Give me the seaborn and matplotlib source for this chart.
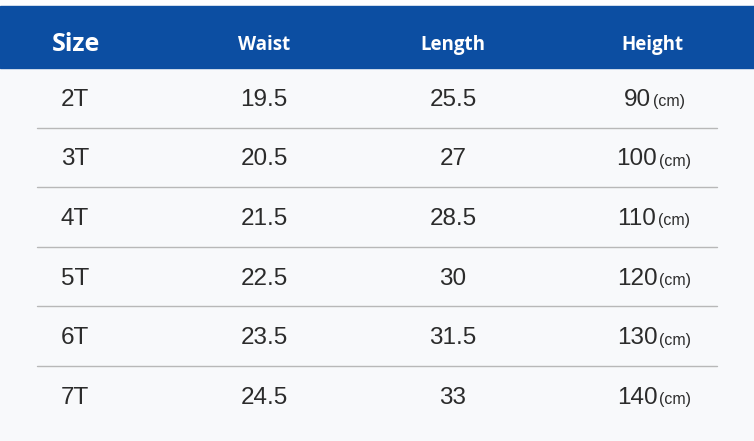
import matplotlib.pyplot as plt
import seaborn as sns
from matplotlib.patches import Rectangle

# Données du tableau des tailles
headers = ["Size", "Waist", "Length", "Height"]
sizes = ["2T", "3T", "4T", "5T", "6T", "7T"]
waist = ["19.5", "20.5", "21.5", "22.5", "23.5", "24.5"]
length = ["25.5", "27", "28.5", "30", "31.5", "33"]
height = ["90", "100", "110", "120", "130", "140"]
unit = "(cm)"

sns.set_theme(style="white")
plt.rcParams['font.family'] = ['Liberation Sans', 'DejaVu Sans']

W, H = 754, 441
fig = plt.figure(figsize=(W / 100, H / 100), dpi=100)
fig.patch.set_facecolor("#f8f9fb")
ax = fig.add_axes([0, 0, 1, 1])
ax.set_xlim(0, W)
ax.set_ylim(H, 0)
ax.axis("off")

# mise en page
col_x = [76, 264, 453, 654]
head_top, head_bot = 6, 68
row_h = 59.6
blue = "#0c4ea2"
txt = "#2b2b2b"
fs_val = 17.5

ax.add_patch(Rectangle((0, 0), W, head_top, color="#fdfdfe", zorder=0))
ax.add_patch(Rectangle((0, head_top), W, head_bot - head_top, color=blue, zorder=1))

head_sizes = [18, 13.5, 13.5, 13.5]
for x, h, fs in zip(col_x, headers, head_sizes):
    ax.text(x - (2 if h == "Height" else 0), 45 if h != "Size" else 44.5, h,
            color="white", fontsize=fs, fontweight="bold",
            family=["Open Sans", "DejaVu Sans"],
            ha="center", va="center", zorder=2)

for i in range(len(sizes)):
    y = head_bot + (i + 0.5) * row_h + 2
    ax.text(col_x[0] - 1, y, sizes[i], color=txt, fontsize=fs_val, ha="center", va="center")
    ax.text(col_x[1], y, waist[i], color=txt, fontsize=fs_val, ha="center", va="center")
    ax.text(col_x[2], y, length[i], color=txt, fontsize=fs_val, ha="center", va="center")
    if i < len(sizes) - 1:
        ys = head_bot + (i + 1) * row_h
        ax.plot([37, 717], [ys, ys], color="#b8b8b8", lw=1, zorder=1)

# colonne Height : nombre + (cm) centrés ensemble
fig.canvas.draw()
r = fig.canvas.get_renderer()
for i in range(len(height)):
    y = head_bot + (i + 0.5) * row_h + 2
    t1 = ax.text(0, y, height[i], color=txt, fontsize=fs_val, ha="left", va="center")
    t2 = ax.text(0, y + 2, unit, color=txt, fontsize=11.5, ha="left", va="center")
    w1 = t1.get_window_extent(r).width
    w2 = t2.get_window_extent(r).width
    gap = 2
    x0 = col_x[3] - (w1 + gap + w2) / 2
    t1.set_x(x0)
    t2.set_x(x0 + w1 + gap)

plt.savefig("out.png", dpi=100, facecolor=fig.get_facecolor())
plt.close()
